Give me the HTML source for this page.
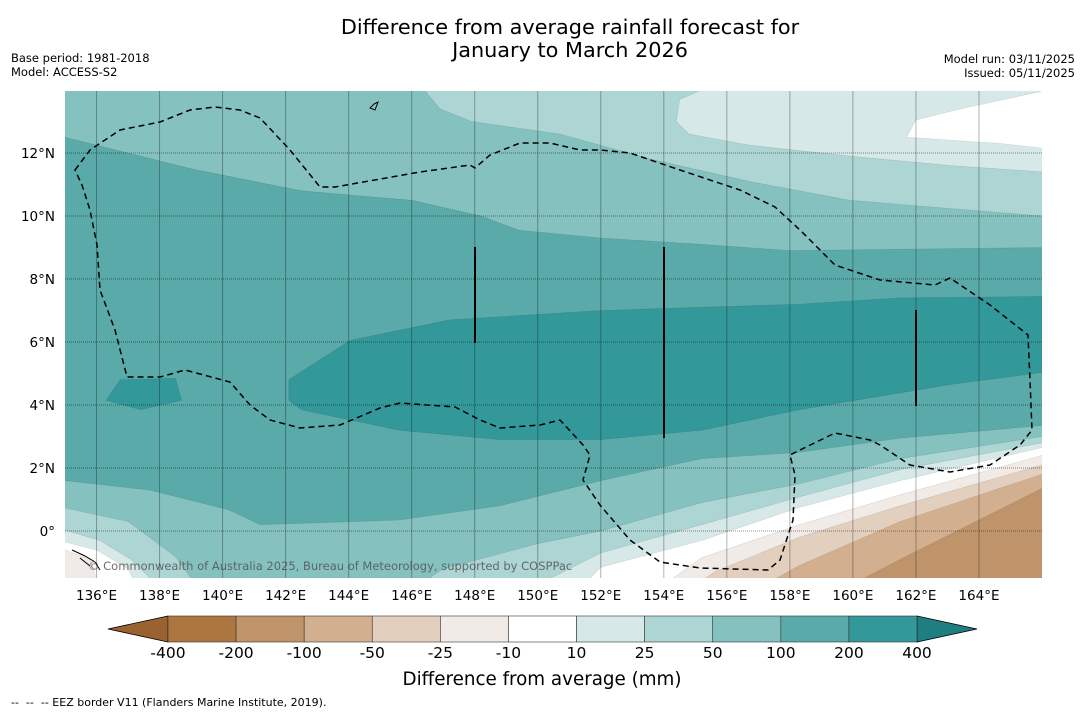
<!DOCTYPE html>
<html><head><meta charset="utf-8"><style>
body{margin:0;background:#fff;width:1085px;height:713px;overflow:hidden;font-family:"DejaVu Sans","Liberation Sans",sans-serif}
svg{display:block}
</style></head><body>
<svg id="chart" width="1085" height="713" viewBox="0 0 1085 713" font-family="DejaVu Sans, Liberation Sans, sans-serif">
<text x="570" y="34" font-size="20.8" text-anchor="middle">Difference from average rainfall forecast for</text>
<text x="570" y="57" font-size="20.8" text-anchor="middle">January to March 2026</text>
<text x="11" y="62" font-size="11.5">Base period: 1981-2018</text>
<text x="11" y="76" font-size="11.5">Model: ACCESS-S2</text>
<text x="1075" y="63" font-size="11.5" text-anchor="end">Model run: 03/11/2025</text>
<text x="1075" y="77" font-size="11.5" text-anchor="end">Issued: 05/11/2025</text>
<defs><clipPath id="plotclip"><rect x="65" y="91" width="977" height="487"/></clipPath></defs>
<g id="map" clip-path="url(#plotclip)"></g>
<g id="overlay" clip-path="url(#plotclip)">
<path fill="none" stroke="#000" stroke-width="1.5" stroke-dasharray="6,4" d="M75,170 L90,150 L120,130 L160,122 L190,110 L215,107 L240,110 L260,118 L290,150 L320,187 L335,187 L420,172 L470,165 L475,168 L490,155 L520,143 L550,143 L580,150 L600,150 L630,153 L680,170 L740,190 L775,207 L800,230 L835,265 L880,280 L935,285 L950,278 L990,305 L1028,335 L1030,380 L1032,430 L1020,445 L990,465 L950,472 L910,465 L880,445 L870,440 L835,433 L800,450 L790,455 L795,475 L793,520 L780,560 L768,570 L700,568 L660,562 L630,540 L600,505 L583,480 L590,455 L583,445 L560,420 L540,425 L500,428 L480,420 L455,407 L400,403 L380,408 L340,425 L300,428 L270,420 L250,405 L230,382 L185,370 L160,377 L127,377 L115,330 L100,290 L97,245 L90,210 L82,185 Z"/>
<line x1="475" y1="247" x2="475" y2="343" stroke="#000" stroke-width="2"/>
<line x1="664" y1="247" x2="664" y2="438" stroke="#000" stroke-width="2"/>
<line x1="916" y1="310" x2="916" y2="406" stroke="#000" stroke-width="2"/>
<path d="M72,550 L85,556 L95,562 L100,570 M80,558 L90,566" stroke="#000" stroke-width="1" fill="none"/>
<path d="M370,108 L374,104 L378,102 L375,110 Z" stroke="#000" fill="none"/>
<text x="88" y="570" font-size="11.5" fill="#555" fill-opacity="0.85">© Commonwealth of Australia 2025, Bureau of Meteorology, supported by COSPPac</text>
</g>
<g id="axes"></g>
<g id="cbar"></g>
<text x="542" y="685" font-size="18.3" text-anchor="middle">Difference from average (mm)</text>
<text x="11" y="706" font-size="11" style="white-space:pre">--  --  -- EEZ border V11 (Flanders Marine Institute, 2019).</text>
</svg>
<script>
const lonTicks=[136,138,140,142,144,146,148,150,152,154,156,158,160,162,164];
const latTicks=[0,2,4,6,8,10,12];
const cbarLevels=[-400,-200,-100,-50,-25,-10,10,25,50,100,200,400];
const cbarColors=["#ac7640","#c0946a","#d2b08f","#e3cfbd","#f1ebe7","#ffffff","#d6e9e8","#acd5d4","#84c1bf","#5aaaa9","#33989a"];
// contour lines [lon,lat]
const upper100=[[135,12.5],[137,12.0],[139,11.5],[142.5,10.8],[146,10.5],[148.2,10.0],[149.4,9.55],[152,9.3],[155.2,9.1],[158,8.9],[162,8.95],[166,9.0]];
const upper50=[[146.4,14.5],[146.4,14.0],[146.9,13.4],[147.9,13.0],[150.7,12.6],[153.6,11.8],[156.7,11.1],[159.9,10.5],[166,10.0]];
const upper25=[[155.2,14.5],[155.2,14.0],[154.5,13.7],[154.4,13.0],[154.8,12.6],[156.7,12.25],[159.9,11.9],[163.1,11.6],[166,11.4]];
const upper10=[[166.5,14.5],[165.95,13.95],[163.4,13.4],[162,13.05],[161.7,12.5],[164.7,12.3],[166.5,12.1]];
const core400=[[142.1,4.8],[144.05,6.05],[147.2,6.7],[152,7.0],[158.3,7.2],[161.5,7.4],[166.5,7.45],[166.5,5.1],[163.1,4.65],[158.3,3.85],[155.2,3.2],[152,2.9],[148.8,2.9],[145.6,3.2],[142.5,3.85],[142.1,4.15]];
const blob400=[[136.3,4.15],[136.75,4.8],[138.5,4.85],[138.7,4.15],[137.4,3.85]];
const low100=[[135,1.6],[137.7,1.3],[140.2,0.67],[141.2,0.2],[145.6,0.35],[148.8,0.8],[152,1.6],[155.2,2.3],[158.3,2.5],[161.5,2.95],[166,3.35]];
const low50=[[135,0.73],[137,0.3],[138.5,-0.8],[139.5,-2.2],[145.5,-2.2],[147,-1.2],[150,-0.4],[152,0.0],[155.2,0.9],[158.3,1.5],[161.5,2.3],[166,3.0]];
const low25=[[135,0.03],[136.1,-0.3],[137.1,-0.9],[137.7,-1.5],[138,-2.2],[149,-2.2],[152,-0.7],[155.2,0.2],[158.3,1.08],[161.5,1.95],[166,2.8]];
const low10=[[135,-0.35],[136,-0.6],[137,-1.2],[137.5,-2.2],[151,-2.2],[152,-1.15],[155.2,-0.3],[158.3,0.75],[161.5,1.6],[166,2.65]];
const lowm10=[[135,-0.6],[135.8,-0.9],[136.2,-2.2],[153.3,-2.2],[155.2,-0.85],[158.3,0.2],[161.5,1.15],[166,2.4]];
const lowm25=[[154.3,-2.2],[155.6,-1.3],[158.3,-0.2],[161.5,0.8],[166,2.1]];
const lowm50=[[156.3,-2.2],[158.3,-1.1],[161.5,0.3],[166,1.8]];
const lowm100=[[159.0,-2.2],[161.5,-0.9],[166,1.35]];

const X0=65,X1=1042,Y0=91,Y1=578,LON0=135,LON1=166;
const xs=lon=>X0+(lon-LON0)/(LON1-LON0)*(X1-X0);
const ys=lat=>531-lat*31.5;
const NS="http://www.w3.org/2000/svg";
function mk(t,a,p){const e=document.createElementNS(NS,t);for(const k in a)e.setAttribute(k,a[k]);p.appendChild(e);return e;}
const map=document.getElementById('map');
const bg=mk('rect',{x:X0,y:Y0,width:X1-X0,height:Y1-Y0,fill:"#5aaaa9"},map);


function pts(a){return a.map(p=>xs(p[0]).toFixed(1)+","+ys(p[1]).toFixed(1)).join(" ");}
function above(line,col,name){
  const p=mk('polygon',{points:"-10,-10 "+pts(line)+" 1100,-10",fill:col,stroke:"rgba(0,0,0,0.12)","stroke-width":0.6},map);
  
  
}
function below(line,col,name){
  const p=mk('polygon',{points:"-10,700 "+pts(line)+" 1100,700",fill:col,stroke:"rgba(0,0,0,0.12)","stroke-width":0.6},map);
  
  
}
function closed(line,col,name){
  const p=mk('polygon',{points:pts(line),fill:col,stroke:"rgba(0,0,0,0.12)","stroke-width":0.6},map);
  
  
}
above(upper100,"#84c1bf","band-upper-50-100");
above(upper50,"#acd5d4","band-upper-25-50");
above(upper25,"#d6e9e8","band-upper-10-25");
closed(upper10,"#ffffff","band-upper-white");
closed(core400,"#33989a","band-core-200-400");
closed(blob400,"#33989a","band-blob-200-400");
below(low100,"#84c1bf","band-lower-50-100");
below(low50,"#acd5d4","band-lower-25-50");
below(low25,"#d6e9e8","band-lower-10-25");
below(low10,"#ffffff","band-lower-white");
below(lowm10,"#f1ebe7","band-lower-m10-m25");
below(lowm25,"#e3cfbd","band-lower-m25-m50");
below(lowm50,"#d2b08f","band-lower-m50-m100");
below(lowm100,"#c0946a","band-lower-m100-m200");

const axes=document.getElementById('axes');
lonTicks.forEach(l=>{
  const g=mk('line',{x1:xs(l),x2:xs(l),y1:Y0,y2:Y1,stroke:"#000","stroke-opacity":0.3,"stroke-width":1},axes);
  
  
  const t=mk('text',{x:xs(l),y:600,"font-size":13.5,"text-anchor":"middle"},axes);
  t.textContent=l+"°E";
  
  
});
latTicks.forEach(l=>{
  const g=mk('line',{x1:X0,x2:X1,y1:ys(l),y2:ys(l),stroke:"#000","stroke-opacity":0.45,"stroke-width":1,"stroke-dasharray":"1,1"},axes);
  
  
  const t=mk('text',{x:55,y:ys(l)+5,"font-size":13.5,"text-anchor":"end"},axes);
  t.textContent=l+"°"+(l===0?"":"N");
  
  
});

const cb=document.getElementById('cbar');
const CB0=168,CB1=917,CBY=616,CBH=26,bw=(CB1-CB0)/cbarColors.length;
const lt=mk('polygon',{points:`108,${CBY+CBH/2} ${CB0},${CBY} ${CB0},${CBY+CBH}`,fill:"#9a6230",stroke:"#000","stroke-width":0.8},cb);


const rt=mk('polygon',{points:`977,${CBY+CBH/2} ${CB1},${CBY} ${CB1},${CBY+CBH}`,fill:"#1f7f80",stroke:"#000","stroke-width":0.8},cb);


cbarColors.forEach((c,i)=>{
  const r=mk('rect',{x:CB0+i*bw,y:CBY,width:bw,height:CBH,fill:c,stroke:"#333","stroke-width":0.6},cb);
  
  
});
cbarLevels.forEach((v,i)=>{
  const t=mk('text',{x:CB0+i*bw,y:658,"font-size":15.5,"text-anchor":"middle"},cb);
  t.textContent=v;
  
  
});
</script>
</body></html>
